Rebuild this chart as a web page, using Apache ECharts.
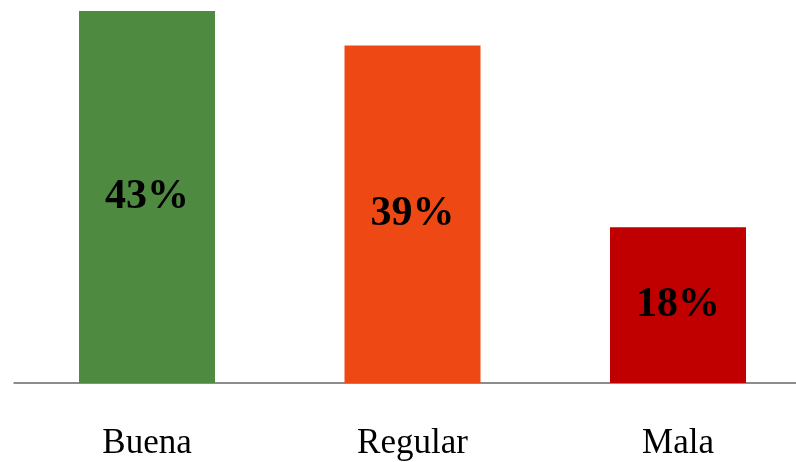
<!DOCTYPE html>
<html>
<head>
<meta charset="utf-8">
<script src="https://cdn.jsdelivr.net/npm/echarts@6/dist/echarts.min.js"></script>
<style>html,body{margin:0;padding:0;background:#fff;}#c{width:796px;height:462px;}</style>
</head>
<body>
<div id="c"></div>
<script>
const categories = ['Buena', 'Regular', 'Mala'];
const values = [43, 39, 18];
const colors = ['#4e8b41', '#ee4914', '#c00000'];

const chart = echarts.init(document.getElementById('c'));
chart.setOption({
  animation: false,
  grid: { left: 14.25, top: 11, right: -14.75, bottom: 79, outerBoundsMode: 'none', containLabel: false },
  xAxis: {
    type: 'category',
    data: categories,
    axisLine: { lineStyle: { color: '#8c8c8c', width: 2 } },
    axisTick: { show: false },
    axisLabel: { color: '#000', fontFamily: 'Liberation Serif', fontSize: 35, margin: 43 }
  },
  yAxis: {
    type: 'value', min: 0, max: 43,
    show: false, splitLine: { show: false }
  },
  series: [{
    type: 'bar',
    barWidth: 136,
    data: values.map((v, i) => ({ value: v, itemStyle: { color: colors[i] } })),
    label: {
      show: true, position: 'inside', color: '#000',
      fontFamily: 'Liberation Serif', fontWeight: 'bold', fontSize: 42,
      formatter: p => p.value + '%'
    }
  }]
});
</script>
</body>
</html>
